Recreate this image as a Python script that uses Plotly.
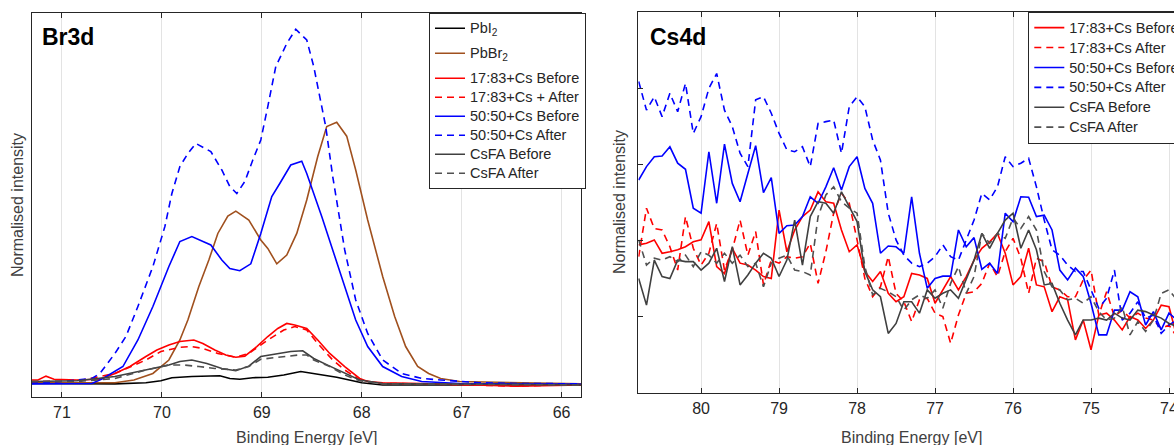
import plotly.graph_objects as go

# ---------------- Br3d panel data (binding energy [eV], normalised intensity) ----------------
br_pbi2_x = [71.31, 70.47, 70.16, 70.01, 69.90, 69.70, 69.42, 69.32, 69.22, 69.09, 68.94, 68.78, 68.61, 68.48, 68.36, 68.25, 68.09, 68.00, 67.79, 65.80]
br_pbi2_y = [0.036, 0.035, 0.038, 0.043, 0.051, 0.054, 0.056, 0.049, 0.047, 0.051, 0.052, 0.058, 0.067, 0.062, 0.056, 0.052, 0.043, 0.038, 0.032, 0.032]

br_pbbr2_x = [71.31, 70.85, 70.47, 70.28, 70.09, 69.93, 69.82, 69.74, 69.63, 69.53, 69.44, 69.34, 69.26, 69.13, 69.01, 68.94, 68.85, 68.75, 68.65, 68.55, 68.44, 68.35, 68.25, 68.15, 68.06, 67.94, 67.79, 67.67, 67.56, 67.44, 67.33, 67.21, 67.02, 65.80]
br_pbbr2_y = [0.038, 0.038, 0.038, 0.045, 0.062, 0.097, 0.149, 0.201, 0.288, 0.357, 0.426, 0.471, 0.484, 0.461, 0.409, 0.387, 0.347, 0.370, 0.426, 0.513, 0.626, 0.704, 0.715, 0.679, 0.591, 0.461, 0.314, 0.210, 0.132, 0.080, 0.062, 0.049, 0.041, 0.035]

br_1783_before_x = [71.31, 71.24, 71.16, 71.08, 70.85, 70.62, 70.47, 70.32, 70.16, 70.05, 69.93, 69.82, 69.68, 69.59, 69.47, 69.36, 69.26, 69.17, 69.05, 68.94, 68.84, 68.75, 68.67, 68.55, 68.44, 68.32, 68.17, 68.02, 67.94, 67.79, 67.40, 66.44, 65.80]
br_1783_before_y = [0.045, 0.045, 0.055, 0.047, 0.045, 0.047, 0.062, 0.080, 0.106, 0.123, 0.136, 0.145, 0.149, 0.140, 0.123, 0.110, 0.104, 0.107, 0.132, 0.158, 0.179, 0.192, 0.188, 0.179, 0.149, 0.114, 0.080, 0.049, 0.041, 0.038, 0.036, 0.029, 0.032]

br_1783_after_x = [71.31, 70.85, 70.47, 70.16, 70.01, 69.82, 69.70, 69.59, 69.44, 69.26, 69.13, 68.94, 68.78, 68.67, 68.55, 68.44, 68.29, 68.17, 68.02, 67.79, 67.40, 66.83, 66.44, 65.80]
br_1783_after_y = [0.041, 0.042, 0.062, 0.097, 0.119, 0.130, 0.132, 0.127, 0.114, 0.104, 0.114, 0.149, 0.175, 0.184, 0.175, 0.140, 0.097, 0.071, 0.045, 0.036, 0.035, 0.032, 0.029, 0.034]

br_5050_before_x = [71.31, 71.01, 70.70, 70.59, 70.39, 70.24, 70.09, 69.93, 69.82, 69.70, 69.51, 69.40, 69.32, 69.22, 69.11, 69.01, 68.90, 68.82, 68.71, 68.60, 68.55, 68.40, 68.29, 68.17, 68.06, 67.94, 67.79, 67.60, 67.40, 67.02, 65.80]
br_5050_before_y = [0.035, 0.036, 0.036, 0.049, 0.080, 0.149, 0.236, 0.340, 0.405, 0.418, 0.396, 0.357, 0.335, 0.329, 0.347, 0.426, 0.522, 0.556, 0.604, 0.614, 0.582, 0.470, 0.383, 0.288, 0.201, 0.132, 0.080, 0.054, 0.041, 0.036, 0.034]

br_5050_after_x = [71.31, 71.01, 70.70, 70.62, 70.47, 70.36, 70.24, 70.09, 69.97, 69.90, 69.82, 69.74, 69.66, 69.51, 69.40, 69.32, 69.25, 69.17, 69.09, 69.01, 68.94, 68.86, 68.75, 68.66, 68.55, 68.48, 68.36, 68.29, 68.17, 68.06, 67.94, 67.79, 67.60, 67.40, 67.21, 67.02, 66.83, 66.44, 65.80]
br_5050_after_y = [0.036, 0.041, 0.049, 0.062, 0.114, 0.158, 0.236, 0.340, 0.444, 0.530, 0.600, 0.634, 0.660, 0.639, 0.591, 0.548, 0.530, 0.561, 0.617, 0.669, 0.756, 0.860, 0.920, 0.957, 0.929, 0.860, 0.704, 0.574, 0.383, 0.253, 0.166, 0.097, 0.062, 0.049, 0.045, 0.041, 0.038, 0.036, 0.035]

br_csfa_before_x = [71.31, 70.85, 70.47, 70.24, 70.09, 69.93, 69.82, 69.70, 69.55, 69.40, 69.26, 69.13, 69.01, 68.86, 68.71, 68.59, 68.48, 68.32, 68.17, 68.02, 67.79, 65.80]
br_csfa_before_y = [0.041, 0.043, 0.054, 0.067, 0.075, 0.084, 0.093, 0.097, 0.088, 0.075, 0.069, 0.081, 0.106, 0.113, 0.119, 0.121, 0.101, 0.081, 0.062, 0.045, 0.036, 0.032]

br_csfa_after_x = [71.31, 70.85, 70.47, 70.16, 69.93, 69.78, 69.63, 69.47, 69.26, 69.13, 69.01, 68.82, 68.63, 68.55, 68.48, 68.32, 68.17, 68.02, 67.79, 65.80]
br_csfa_after_y = [0.041, 0.041, 0.049, 0.071, 0.084, 0.084, 0.080, 0.075, 0.071, 0.080, 0.099, 0.104, 0.110, 0.110, 0.097, 0.080, 0.058, 0.043, 0.035, 0.032]

br_ticks = [71, 70, 69, 68, 67, 66]

# ---------------- Cs4d panel data ----------------
cs_x = [80.8, 80.7, 80.6, 80.5, 80.4, 80.3, 80.2, 80.1, 80.0, 79.9,
        79.8, 79.7, 79.6, 79.5, 79.4, 79.3, 79.2, 79.1, 79.0, 78.9,
        78.8, 78.7, 78.6, 78.5, 78.4, 78.3, 78.2, 78.1, 78.0, 77.9,
        77.8, 77.7, 77.6, 77.5, 77.4, 77.3, 77.2, 77.1, 77.0, 76.9,
        76.8, 76.7, 76.6, 76.5, 76.4, 76.3, 76.2, 76.1, 76.0, 75.9,
        75.8, 75.7, 75.6, 75.5, 75.4, 75.3, 75.2, 75.1, 75.0, 74.9,
        74.8, 74.7, 74.6, 74.5, 74.4, 74.3, 74.2, 74.1, 74.0, 73.9]

cs_1783_before = [0.389, 0.393, 0.402, 0.367, 0.371, 0.376, 0.384, 0.397, 0.402, 0.450,
                  0.332, 0.314, 0.380, 0.341, 0.336, 0.323, 0.306, 0.301, 0.480, 0.371,
                  0.428, 0.463, 0.480, 0.528, 0.502, 0.498, 0.428, 0.371, 0.389, 0.319,
                  0.293, 0.319, 0.262, 0.240, 0.253, 0.314, 0.310, 0.301, 0.236, 0.271,
                  0.306, 0.271, 0.306, 0.349, 0.380, 0.397, 0.419, 0.367, 0.284, 0.306,
                  0.380, 0.284, 0.279, 0.214, 0.253, 0.245, 0.140, 0.192, 0.114, 0.205,
                  0.210, 0.192, 0.166, 0.201, 0.192, 0.170, 0.192, 0.231, 0.227, 0.148]

cs_1783_after = [0.358, 0.485, 0.432, 0.428, 0.384, 0.323, 0.463, 0.380, 0.336, 0.367,
                 0.445, 0.323, 0.376, 0.454, 0.362, 0.424, 0.284, 0.349, 0.341, 0.358,
                 0.354, 0.358, 0.393, 0.288, 0.371, 0.472, 0.524, 0.498, 0.402, 0.301,
                 0.253, 0.279, 0.358, 0.262, 0.240, 0.188, 0.245, 0.249, 0.210, 0.201,
                 0.131, 0.205, 0.262, 0.266, 0.288, 0.341, 0.306, 0.371, 0.406, 0.354,
                 0.262, 0.354, 0.345, 0.279, 0.271, 0.253, 0.253, 0.297, 0.323, 0.205,
                 0.266, 0.201, 0.218, 0.197, 0.210, 0.197, 0.192, 0.170, 0.179, 0.148]

cs_5050_before = [0.559, 0.594, 0.620, 0.622, 0.646, 0.603, 0.587, 0.485, 0.472, 0.633,
                  0.498, 0.653, 0.550, 0.502, 0.576, 0.649, 0.526, 0.565, 0.419, 0.439,
                  0.441, 0.463, 0.515, 0.498, 0.541, 0.591, 0.533, 0.594, 0.620, 0.537,
                  0.498, 0.367, 0.386, 0.384, 0.367, 0.515, 0.367, 0.275, 0.301, 0.307,
                  0.307, 0.428, 0.384, 0.408, 0.325, 0.341, 0.314, 0.472, 0.450, 0.515,
                  0.514, 0.463, 0.467, 0.428, 0.323, 0.297, 0.328, 0.306, 0.236, 0.153,
                  0.153, 0.218, 0.218, 0.266, 0.253, 0.179, 0.214, 0.166, 0.210, 0.192]

cs_5050_after = [0.817, 0.742, 0.777, 0.725, 0.786, 0.738, 0.812, 0.681, 0.725, 0.799,
                 0.838, 0.742, 0.699, 0.629, 0.594, 0.769, 0.777, 0.734, 0.681, 0.638,
                 0.633, 0.646, 0.594, 0.707, 0.712, 0.716, 0.629, 0.751, 0.777, 0.751,
                 0.664, 0.611, 0.472, 0.402, 0.362, 0.341, 0.332, 0.341, 0.358, 0.389,
                 0.358, 0.349, 0.402, 0.454, 0.524, 0.507, 0.541, 0.620, 0.594, 0.603,
                 0.616, 0.541, 0.454, 0.376, 0.362, 0.336, 0.319, 0.319, 0.271, 0.223,
                 0.249, 0.323, 0.192, 0.210, 0.240, 0.197, 0.205, 0.157, 0.179, 0.192]

cs_csfa_before = [0.301, 0.231, 0.349, 0.306, 0.301, 0.349, 0.345, 0.345, 0.323, 0.341,
                  0.380, 0.293, 0.384, 0.284, 0.310, 0.341, 0.367, 0.354, 0.306, 0.349,
                  0.454, 0.336, 0.463, 0.502, 0.498, 0.472, 0.528, 0.489, 0.450, 0.319,
                  0.271, 0.253, 0.157, 0.183, 0.240, 0.240, 0.210, 0.271, 0.249, 0.262,
                  0.271, 0.249, 0.297, 0.349, 0.419, 0.380, 0.419, 0.454, 0.472, 0.380,
                  0.428, 0.376, 0.284, 0.288, 0.236, 0.192, 0.153, 0.192, 0.192, 0.197,
                  0.192, 0.210, 0.197, 0.192, 0.218, 0.214, 0.205, 0.197, 0.183, 0.175]

cs_csfa_after = [0.402, 0.336, 0.354, 0.349, 0.358, 0.345, 0.362, 0.332, 0.371, 0.362,
                 0.341, 0.367, 0.341, 0.362, 0.332, 0.341, 0.279, 0.341, 0.354, 0.362,
                 0.323, 0.319, 0.310, 0.463, 0.520, 0.541, 0.502, 0.485, 0.472, 0.332,
                 0.258, 0.275, 0.266, 0.253, 0.218, 0.245, 0.258, 0.249, 0.271, 0.223,
                 0.288, 0.332, 0.262, 0.306, 0.419, 0.393, 0.419, 0.406, 0.459, 0.432,
                 0.463, 0.428, 0.319, 0.279, 0.271, 0.245, 0.249, 0.236, 0.253, 0.214,
                 0.192, 0.197, 0.227, 0.153, 0.188, 0.162, 0.192, 0.262, 0.271, 0.245]

cs_ticks = [80, 79, 78, 77, 76, 75, 74]
cs_ytick_vals = [0.2, 0.4, 0.6, 0.8]

# ---------------- styling ----------------
W, H = 1174, 445
FONT = "Liberation Sans, Arial, sans-serif"
DASH = "7px,5px"
LW = 1.6
C_BLACK, C_BROWN = "#000000", "#A0501E"
C_RED, C_BLUE = "#FF0000", "#0000FF"
C_GRAY, C_GRAY2 = "#404040", "#505050"


def px(x):
    return x / W


def py(y):
    return (H - y) / H


def lg(name):
    # legend label shown at the larger size, while the legend row pitch follows the base legend font
    return '<span style="font-size:14.5px">' + name + '</span>'


fig = go.Figure()

left_series = [
    (br_pbi2_x, br_pbi2_y, "PbI<sub>2</sub>", C_BLACK, "solid", "g1"),
    (br_pbbr2_x, br_pbbr2_y, "PbBr<sub>2</sub>", C_BROWN, "solid", "g2"),
    (br_1783_before_x, br_1783_before_y, "17:83+Cs Before", C_RED, "solid", "g3"),
    (br_1783_after_x, br_1783_after_y, "17:83+Cs + After", C_RED, DASH, "g3"),
    (br_5050_before_x, br_5050_before_y, "50:50+Cs Before", C_BLUE, "solid", "g3"),
    (br_5050_after_x, br_5050_after_y, "50:50+Cs After", C_BLUE, DASH, "g3"),
    (br_csfa_before_x, br_csfa_before_y, "CsFA Before", C_GRAY, "solid", "g3"),
    (br_csfa_after_x, br_csfa_after_y, "CsFA After", C_GRAY2, DASH, "g3"),
]
for xs, ys, name, col, dash, grp in left_series:
    fig.add_trace(go.Scatter(x=xs, y=ys, name=lg(name), mode="lines",
                             line=dict(color=col, width=LW, dash=dash),
                             legendgroup=grp,
                             xaxis="x", yaxis="y", legend="legend"))

right_series = [
    (cs_1783_before, "17:83+Cs Before", C_RED, "solid"),
    (cs_1783_after, "17:83+Cs After", C_RED, DASH),
    (cs_5050_before, "50:50+Cs Before", C_BLUE, "solid"),
    (cs_5050_after, "50:50+Cs After", C_BLUE, DASH),
    (cs_csfa_before, "CsFA Before", C_GRAY, "solid"),
    (cs_csfa_after, "CsFA After", C_GRAY2, DASH),
]
for ys, name, col, dash in right_series:
    fig.add_trace(go.Scatter(x=cs_x, y=ys, name=lg(name), mode="lines",
                             line=dict(color=col, width=LW, dash=dash),
                             xaxis="x2", yaxis="y2", legend="legend2"))

line_common = dict(showline=True, linecolor="#262626", linewidth=1,
                   zeroline=False, automargin=False)
tick_font = dict(family=FONT, size=16, color="#262626")

fig.update_layout(
    width=W, height=H,
    margin=dict(l=0, r=0, t=0, b=0, autoexpand=False),
    paper_bgcolor="white", plot_bgcolor="white",
    font=dict(family=FONT, color="#262626"),
    xaxis=dict(domain=[px(32), px(581)], range=[71.30, 65.805],
               tickvals=br_ticks, ticktext=[str(t) for t in br_ticks],
               ticks="inside", ticklen=5, tickcolor="#262626", tickfont=tick_font,
               mirror="ticks", showgrid=True, gridcolor="#e3e3e3", gridwidth=1,
               ticklabeloverflow="allow", anchor="y", **line_common),
    yaxis=dict(domain=[py(397.3), py(12.7)], range=[0, 1],
               ticks="", showticklabels=False, showgrid=False, mirror=True,
               anchor="x", **line_common),
    xaxis2=dict(domain=[px(638.3), 1.0], range=[80.805, 73.936],
                tickvals=cs_ticks, ticktext=[str(t) for t in cs_ticks],
                ticks="inside", ticklen=5, tickcolor="#262626", tickfont=tick_font,
                mirror="ticks", showgrid=True, gridcolor="#e3e3e3", gridwidth=1,
                ticklabeloverflow="allow", anchor="y2", **line_common),
    yaxis2=dict(domain=[py(393.3), py(11.7)], range=[0, 1],
                tickvals=cs_ytick_vals, showticklabels=False, showgrid=False,
                ticks="inside", ticklen=5, tickcolor="#262626",
                mirror=False, anchor="x2", **line_common),
    legend=dict(x=px(429), y=py(12.7), xanchor="left", yanchor="top",
                bgcolor="white", bordercolor="#262626", borderwidth=1,
                font=dict(family=FONT, size=12.3, color="#262626"),
                tracegroupgap=6, itemwidth=30, traceorder="grouped"),
    legend2=dict(x=px(1028.3), y=py(11.7), xanchor="left", yanchor="top",
                 bgcolor="white", bordercolor="#262626", borderwidth=1,
                 font=dict(family=FONT, size=13, color="#262626"),
                 tracegroupgap=0, itemwidth=30),
    showlegend=True,
)

annots = [
    dict(text="<b>Br3d</b>", x=px(40), y=py(37), xanchor="left", yanchor="middle",
         font=dict(size=23, color="#000000")),
    dict(text="<b>Cs4d</b>", x=px(648), y=py(37), xanchor="left", yanchor="middle",
         font=dict(size=23, color="#000000")),
    dict(text="Binding Energy [eV]", x=px(306.5), y=py(437), xanchor="center", yanchor="middle",
         font=dict(size=16, color="#404040")),
    dict(text="Binding Energy [eV]", x=px(911), y=py(437), xanchor="center", yanchor="middle",
         font=dict(size=16, color="#404040")),
    dict(text="Normalised intensity", x=px(17), y=py(205), xanchor="center", yanchor="middle",
         textangle=-90, font=dict(size=16, color="#404040")),
    dict(text="Normalised intensity", x=px(620), y=py(202), xanchor="center", yanchor="middle",
         textangle=-90, font=dict(size=16, color="#404040")),
]
for a in annots:
    a.update(xref="paper", yref="paper", showarrow=False)
    a["font"]["family"] = FONT
fig.update_layout(annotations=annots)

fig.write_html("out.html")
